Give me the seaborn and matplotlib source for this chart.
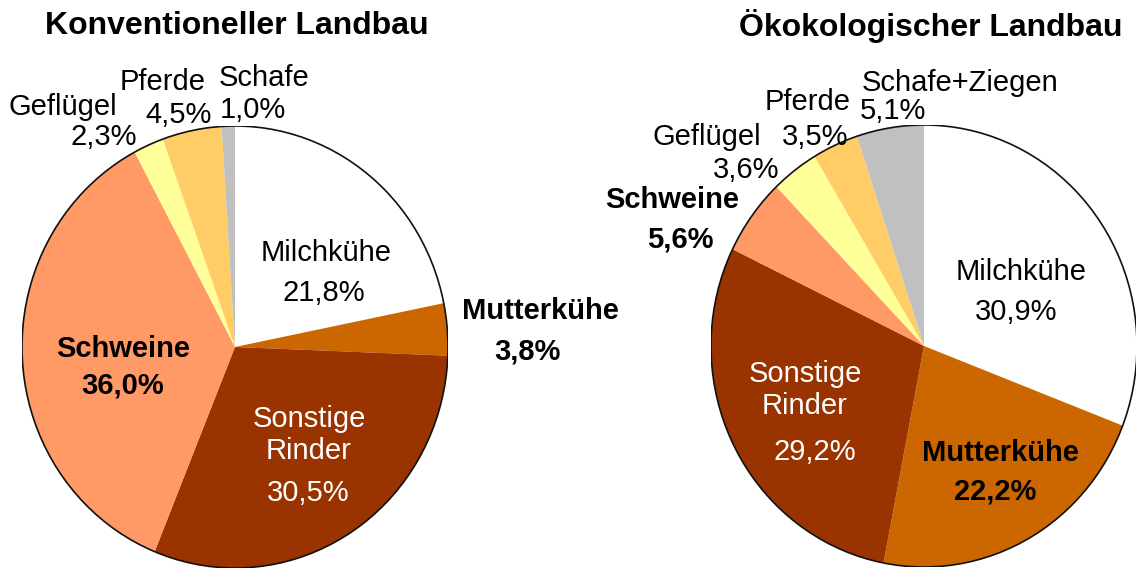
import matplotlib
matplotlib.use("Agg")
import matplotlib.pyplot as plt
from matplotlib.patches import Circle
import seaborn as sns

# data
categories = ["Milchkühe", "Mutterkühe", "Sonstige Rinder", "Schweine",
              "Geflügel", "Pferde", "Schafe"]
konv_values = [21.8, 3.8, 30.5, 36.0, 2.3, 4.5, 1.0]
oeko_values = [30.9, 22.2, 29.2, 5.6, 3.6, 3.5, 5.1]
konv_names = ["Milchkühe", "Mutterkühe", "Sonstige\nRinder", "Schweine",
              "Geflügel", "Pferde", "Schafe"]
oeko_names = ["Milchkühe", "Mutterkühe", "Sonstige\nRinder", "Schweine",
              "Geflügel", "Pferde", "Schafe+Ziegen"]
titles = ["Konventioneller Landbau", "Ökokologischer Landbau"]

colors = ["#FFFFFF", "#CC6600", "#993300", "#FF9966", "#FFFF99", "#FFCC66", "#C0C0C0"]
bold = [False, True, False, True, False, False, False]
text_col = ["black", "black", "white", "black", "black", "black", "black"]

# label layout in pixels: (name x, name y, value x, value y)
konv_pos = [(326, 253, 324, 293), (540, 311, 527, 352), (309, 435, 308, 493),
            (123, 349, 123, 386), (63, 107, 104, 137), (163, 82, 179, 115),
            (264, 78, 253, 110)]
oeko_pos = [(1021, 272, 1016, 312), (1000, 453, 995, 492), (805, 390, 815, 452),
            (672, 200, 680, 239), (707, 137, 746, 170), (808, 102, 815, 137),
            (960, 83, 893, 111)]

sns.set_theme(style="white")
plt.rcParams['font.family'] = ['Liberation Sans', 'DejaVu Sans']
plt.rcParams['text.color'] = 'black'

W, H = 1136, 570
fig = plt.figure(figsize=(W / 100, H / 100), dpi=100)


def px_box(x0, y0, x1, y1):
    return [x0 / W, 1 - y1 / H, (x1 - x0) / W, (y1 - y0) / H]


def fmt(v):
    return f"{v:.1f}".replace(".", ",") + "%"


boxes = [(22, 126, 448, 568), (711, 125, 1137, 567)]
title_x = [237, 931]
for values, names, pos, box, title, tx in zip(
        [konv_values, oeko_values], [konv_names, oeko_names],
        [konv_pos, oeko_pos], boxes, titles, title_x):
    ax = fig.add_axes(px_box(*box))
    ax.pie(values, colors=colors, startangle=90, counterclock=False,
           wedgeprops=dict(linewidth=0, edgecolor="none"))
    ax.add_patch(Circle((0, 0), 1, fill=False, edgecolor="#111111", linewidth=1.2))
    ax.set_aspect("auto")
    ax.set_xlim(-1, 1)
    ax.set_ylim(-1, 1)
    ax.axis("off")

    fig.text(tx / W, 1 - 26 / H, title, ha="center", va="center",
             fontsize=23, fontweight="bold", color="black")
    for name, v, (nx, ny, vx, vy), b, c in zip(names, values, pos, bold, text_col):
        w = "bold" if b else "normal"
        fig.text(nx / W, 1 - ny / H, name, ha="center", va="center",
                 fontsize=21, fontweight=w, color=c, linespacing=1.15)
        fig.text(vx / W, 1 - vy / H, fmt(v), ha="center", va="center",
                 fontsize=21, fontweight=w, color=c)

fig.savefig("out.png", dpi=100)
